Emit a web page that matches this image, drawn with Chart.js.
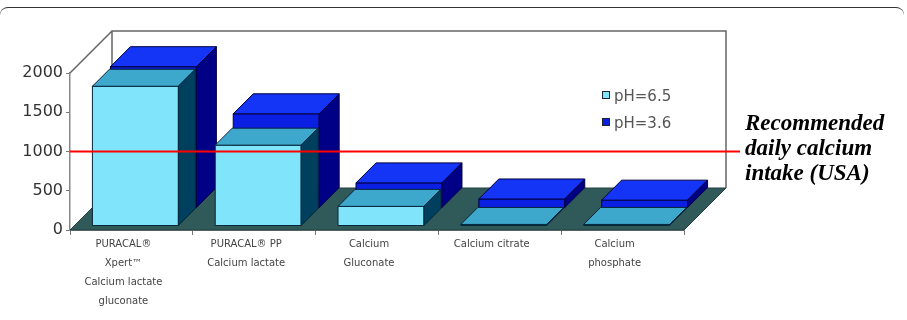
<!DOCTYPE html>
<html>
<head>
<meta charset="utf-8">
<script src="https://cdn.jsdelivr.net/npm/chart.js@4/dist/chart.umd.min.js"></script>
<style>
html, body { margin: 0; padding: 0; background: #fff; }
#wrap { position: relative; width: 907px; height: 320px; overflow: hidden; }
#frame { position: absolute; left: 0; top: 7px; width: 904px; height: 30px; border-top: 1px solid #333; border-radius: 8px 8px 0 0; }
#legend { position: absolute; left: 602px; top: 87px; font: 15px 'DejaVu Sans', sans-serif; color: #555; }
#legend div { height: 27px; line-height: 18px; }
#legend span.box { display: inline-block; width: 6px; height: 6px; border: 1px solid #223; margin-right: 4px; vertical-align: 2px; }
#note { position: absolute; left: 745px; top: 110px; font: italic bold 23px 'Liberation Serif', serif; line-height: 25px; color: #000; }
</style>
</head>
<body>
<div id="wrap">
  <canvas id="chart" width="907" height="320"></canvas>
  <div id="frame"></div>
  <div id="legend"></div>
  <div id="note"></div>
</div>
<script>
const categories = [
    ['PURACAL®', 'Xpert™', 'Calcium lactate', 'gluconate'],
    ['PURACAL® PP', 'Calcium lactate'],
    ['Calcium', 'Gluconate'],
    ['Calcium citrate'],
    ['Calcium', 'phosphate']
];
const seriesLabels = ['pH=6.5', 'pH=3.6'];
const ph65 = [1780, 1030, 250, 20, 20];
const ph36 = [1800, 1200, 320, 115, 100];
const yMax = 2000;
const yStep = 500;
const recommended = 1000;
const noteLines = ['Recommended', 'daily calcium', 'intake (USA)'];

// depth of the 3d box in px, and where each row sits in it
const DEPTH = 42;
const rows = [
    { from: 4, to: 21, front: '#80e4fa', top: '#3ea8cc', side: '#00405e', line: '#06263a' },
    { from: 22, to: 42, front: '#0b1fe2', top: '#1434f6', side: '#000086', line: '#000040' }
];

function poly(ctx, pts, fill, line) {
    ctx.beginPath();
    ctx.moveTo(pts[0][0], pts[0][1]);
    for (let i = 1; i < pts.length; i++) ctx.lineTo(pts[i][0], pts[i][1]);
    ctx.closePath();
    ctx.fillStyle = fill;
    ctx.fill();
    if (line) {
        ctx.strokeStyle = line;
        ctx.lineWidth = 1;
        ctx.stroke();
    }
}

function drawBox(ctx, el, row) {
    const L = el.x - el.width / 2, R = el.x + el.width / 2;
    const top = el.y, base = el.base;
    const a = row.from, b = row.to;
    poly(ctx, [[L + a, top - a], [R + a, top - a], [R + a, base - a], [L + a, base - a]], row.front, row.line);
    poly(ctx, [[L + a, top - a], [R + a, top - a], [R + b, top - b], [L + b, top - b]], row.top, row.line);
    poly(ctx, [[R + a, top - a], [R + b, top - b], [R + b, base - b], [R + a, base - a]], row.side, row.line);
}

const threeD = {
    id: 'threeD',
    beforeDatasetsDraw(chart) {
        const ctx = chart.ctx;
        const x = chart.scales.x, y = chart.scales.y;
        const l = x.left, r = x.right;
        const b = y.getPixelForValue(0), t = y.getPixelForValue(yMax);
        const D = DEPTH;
        ctx.save();
        // back wall
        ctx.strokeStyle = '#666';
        ctx.lineWidth = 1.5;
        ctx.beginPath();
        ctx.moveTo(l, t);
        ctx.lineTo(l + D, t - D);
        ctx.lineTo(r + D, t - D);
        ctx.lineTo(r + D, b - D);
        ctx.moveTo(l + D, t - D);
        ctx.lineTo(l + D, b - D);
        ctx.stroke();
        // floor
        poly(ctx, [[l, b], [r, b], [r + D, b - D], [l + D, b - D]], '#305a5a', '#223f3f');
        // bars, back row first
        for (let i = chart.data.datasets.length - 1; i >= 0; i--) {
            const meta = chart.getDatasetMeta(i);
            meta.data.forEach(el => drawBox(ctx, el, rows[i]));
        }
        ctx.restore();
        return false;
    },
    afterDraw(chart) {
        const ctx = chart.ctx;
        const y = chart.scales.y;
        const py = y.getPixelForValue(recommended);
        ctx.save();
        ctx.strokeStyle = '#ff0000';
        ctx.lineWidth = 2;
        ctx.beginPath();
        ctx.moveTo(chart.scales.x.left, py);
        ctx.lineTo(740, py);
        ctx.stroke();
        ctx.restore();
    }
};

const config = {
    type: 'bar',
    data: {
        labels: categories,
        datasets: [
            { label: seriesLabels[0], data: ph65, backgroundColor: rows[0].front },
            { label: seriesLabels[1], data: ph36, backgroundColor: rows[1].front }
        ]
    },
    options: {
        responsive: false,
        animation: false,
        grouped: false,
        categoryPercentage: 1,
        barPercentage: 0.7,
        layout: { padding: { top: 73, right: 223, left: 0, bottom: 0 } },
        plugins: { legend: { display: false }, tooltip: { enabled: false } },
        scales: {
            x: {
                offset: true,
                afterFit(s) { s.height = 90; },
                grid: { offset: true, drawOnChartArea: false, tickLength: 5, color: '#777' },
                border: { color: '#888', width: 1 },
                ticks: {
                    padding: 0,
                    labelOffset: -8,
                    maxRotation: 0,
                    autoSkip: false,
                    color: '#444',
                    font: { family: 'DejaVu Sans', size: 10, lineHeight: 1.9 }
                }
            },
            y: {
                min: 0,
                max: yMax,
                afterFit(s) { s.width = 70; },
                grid: { drawOnChartArea: false, tickLength: 4, color: '#777' },
                border: { color: '#888', width: 1.5 },
                ticks: {
                    stepSize: yStep,
                    padding: 3,
                    color: '#333',
                    font: { family: 'DejaVu Sans', size: 16 },
                    callback: v => String(v)
                }
            }
        }
    },
    plugins: [threeD]
};

new Chart(document.getElementById('chart'), config);

// legend inside the wall, built from the series
const legend = document.getElementById('legend');
seriesLabels.forEach((s, i) => {
    const d = document.createElement('div');
    d.innerHTML = '<span class="box" style="background:' + rows[i].front + '"></span>' + s;
    legend.appendChild(d);
});
document.getElementById('note').innerHTML = noteLines.join('<br>');
</script>
</body>
</html>
